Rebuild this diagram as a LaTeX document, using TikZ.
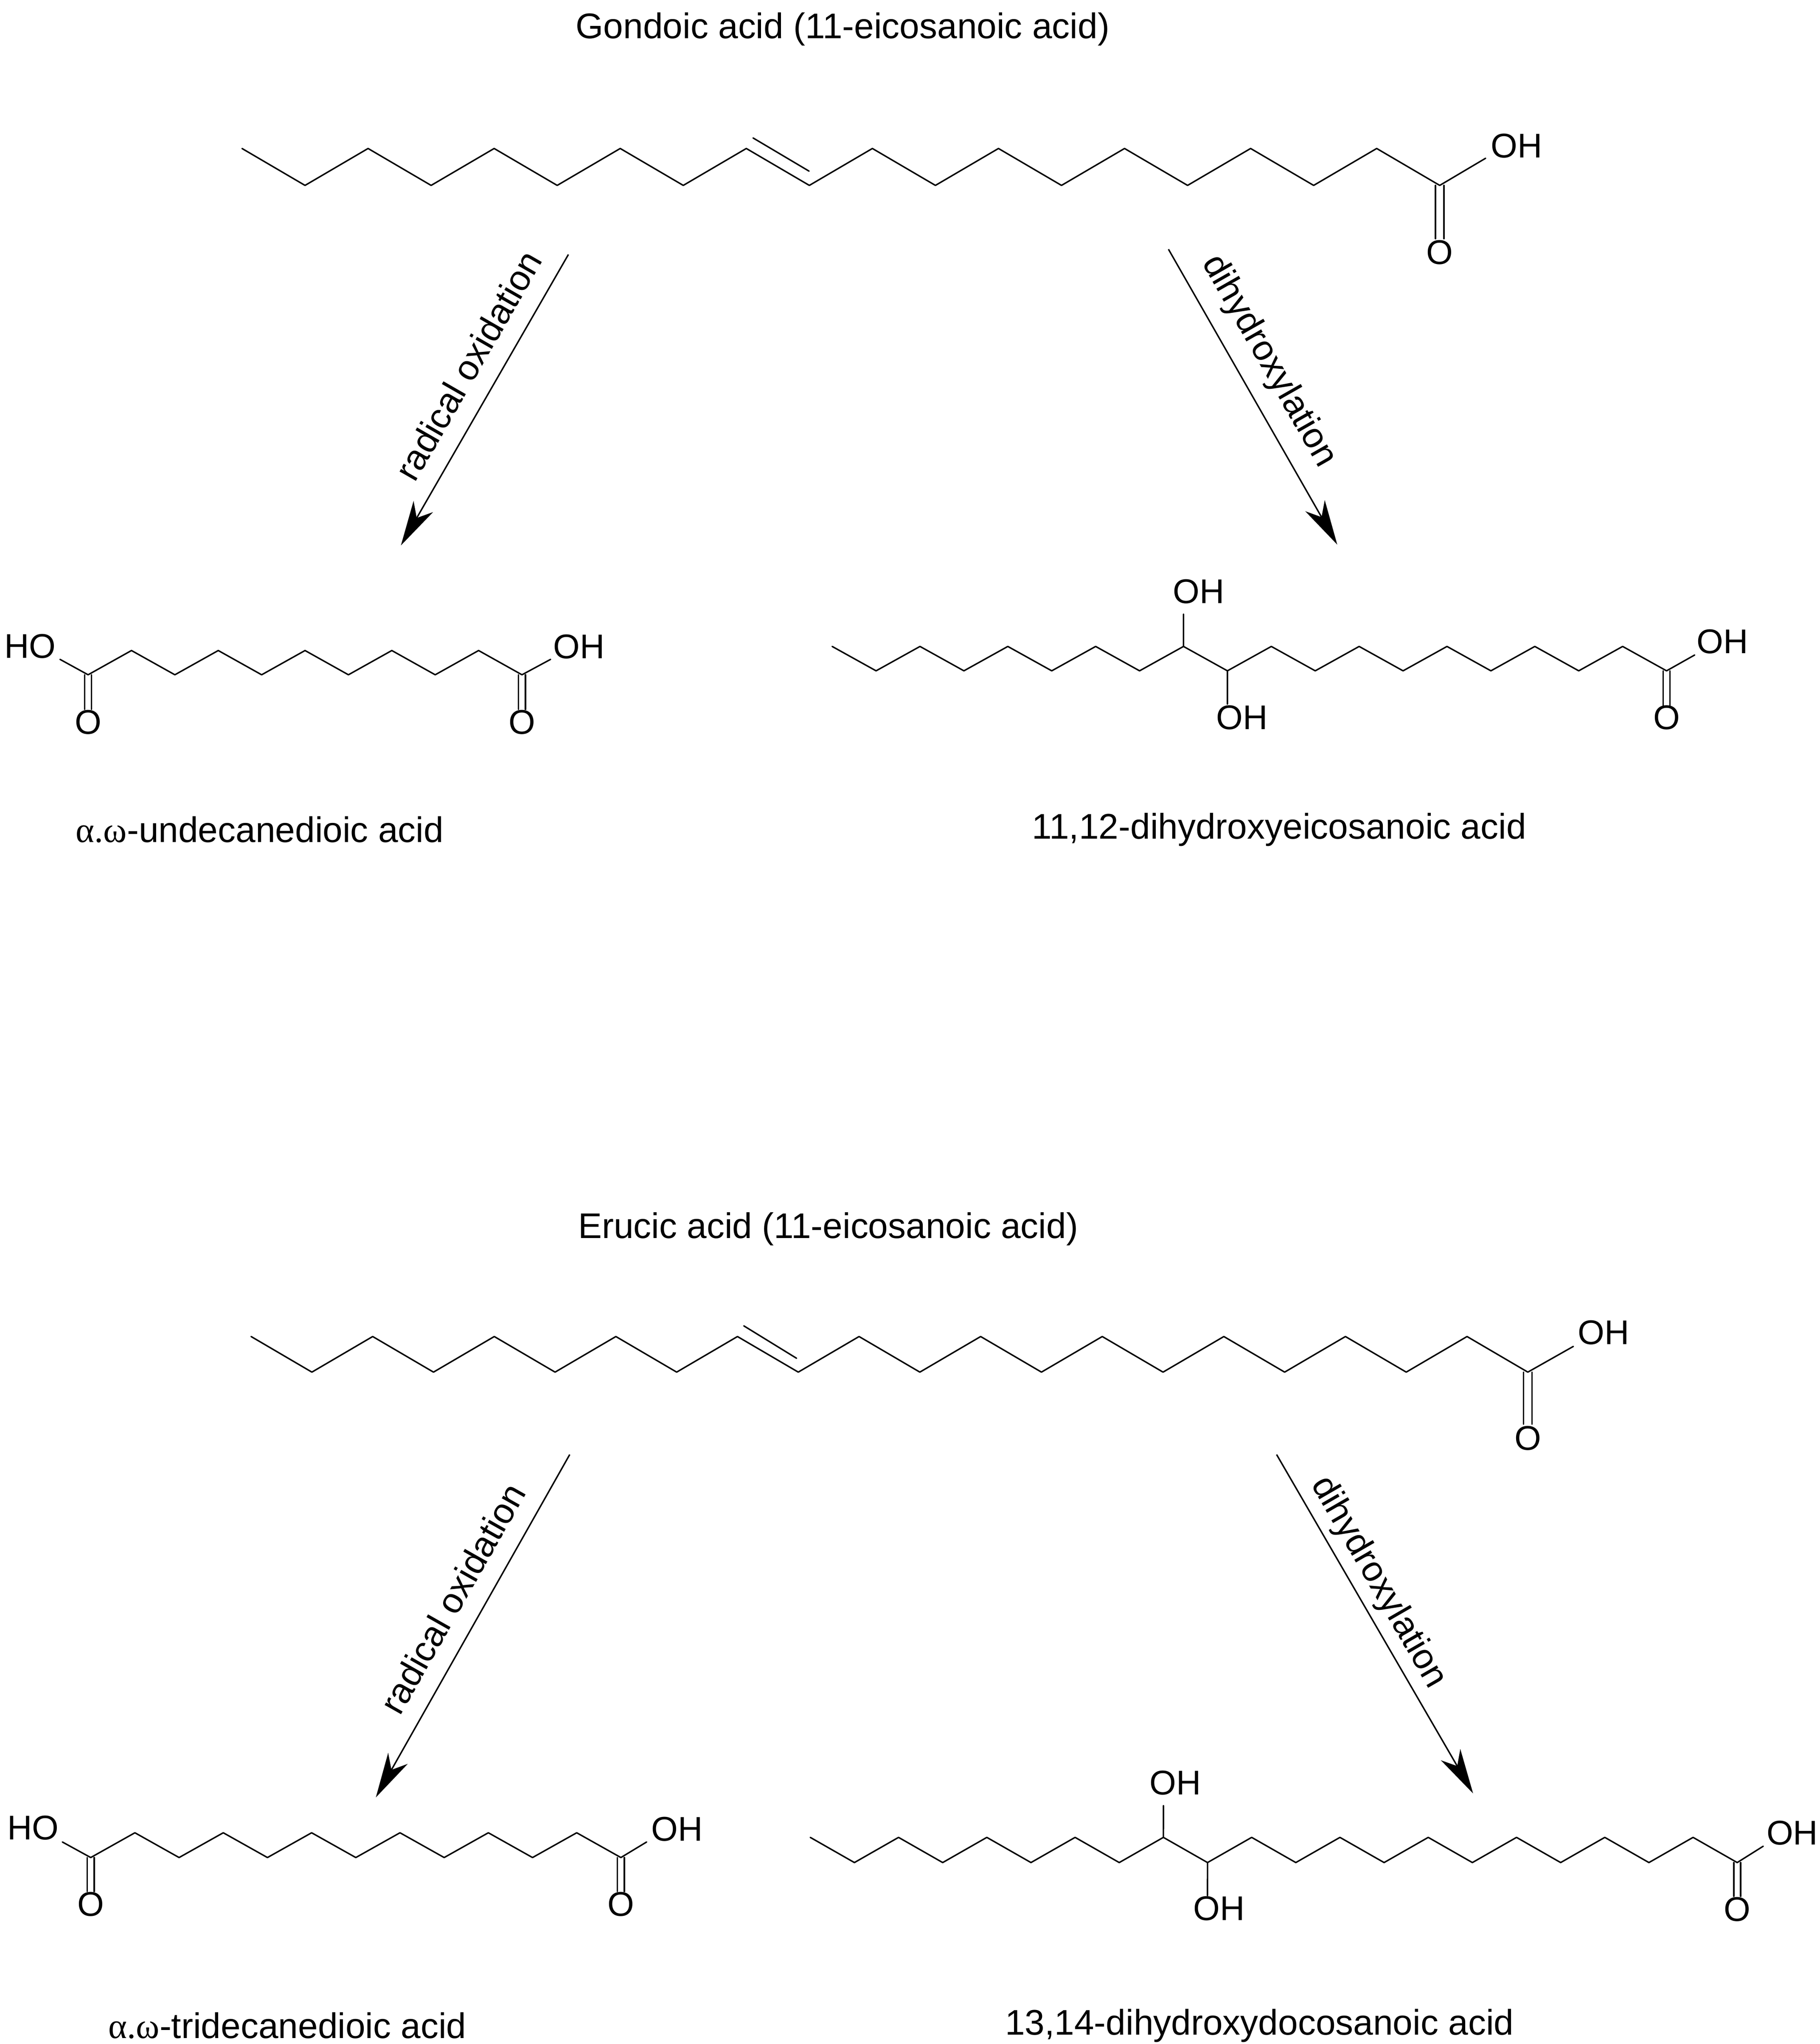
\documentclass[tikz,border=0pt]{standalone}
\usepackage{fontspec}
\setmainfont{Liberation Sans}
\newfontfamily\grk{Liberation Serif}
\usetikzlibrary{arrows.meta}
\tikzset{
  bond/.style={line width=0.55pt, line cap=round, line join=miter},
  atom/.style={inner sep=0pt, font=\fontsize{13pt}{15pt}\selectfont},
  lbl/.style={inner sep=0pt, font=\fontsize{13.5pt}{15pt}\selectfont},
  rxn/.style={line width=0.55pt, -{Stealth[length=17pt,width=8.5pt,inset=5pt]}}
}
% name, last index, x0, dx, y even, y odd
\newcommand{\mychain}[6]{%
  \foreach \i in {0,...,#2}{%
    \pgfmathsetmacro\yy{#5+mod(\i,2)*(#6-#5)}%
    \coordinate (#1\i) at ({#3+\i*#4},\yy);}
  \pgfmathtruncatemacro\lastm{#2-1}%
  \foreach \i in {0,...,\lastm}{%
    \pgfmathtruncatemacro\j{\i+1}%
    \draw[bond] (#1\i)--(#1\j);}
}
% double C=O: carbon coord, end y, half gap
\newcommand{\cdo}[3]{%
  \draw[bond] ([xshift=-#3*0.5pt]#1) -- ([xshift=-#3*0.5pt]#1 |- 0,#2);
  \draw[bond] ([xshift=#3*0.5pt]#1) -- ([xshift=#3*0.5pt]#1 |- 0,#2);}
\begin{document}
\begin{tikzpicture}[x=0.5pt,y=-0.5pt]
\useasboundingbox (0,0) rectangle (1380,1550);
% ---------- Gondoic acid ----------
\node[lbl] (t1) at (639,22) {Gondoic acid (11-eicosanoic acid)};
\mychain{g}{19}{183.5}{47.8}{112.6}{140.6}
\draw[bond] (571,104.6) -- (613.5,129.8);
\coordinate (gOHb) at (1126.5,120);
\draw[bond] (g19) -- (gOHb);
\node[atom] (gOH) at (1150,110.5) {OH};
\cdo{g19}{181}{3.2}
\node[atom] (gO) at (1091.5,191.5) {O};
% arrows top
\coordinate (a1s) at (431,193); \coordinate (a1e) at (304,413.6);
\draw[rxn] (a1s) -- (a1e);
\node[lbl, rotate=60.1] (l1) at (355,277) {radical oxidation};
\coordinate (a2s) at (886,189); \coordinate (a2e) at (1014,413);
\draw[rxn] (a2s) -- (a2e);
\node[lbl, rotate=-60.3] (l2) at (962,274) {dihydroxylation};
% ---------- undecanedioic ----------
\mychain{u}{10}{66.8}{32.9}{511.7}{493.3}
\coordinate (uHOb) at (45.5,500); \draw[bond] (u0) -- (uHOb);
\node[atom] (uHO) at (22.8,490) {HO};
\coordinate (uOHb) at (417.5,500); \draw[bond] (u10) -- (uOHb);
\node[atom] (uOH) at (439,490.5) {OH};
\cdo{u0}{538}{2.6}
\cdo{u10}{538}{2.6}
\node[atom] (uO1) at (66.8,547.7) {O};
\node[atom] (uO2) at (395.8,547.7) {O};
\node[lbl] (un) at (197,629) {{\grk α.ω}-undecanedioic acid};
% ---------- 11,12-dihydroxyeicosanoic ----------
\mychain{d}{19}{631}{33.3}{490.2}{508.7}
\coordinate (dOH1b) at (897.4,465.7); \draw[bond] (d8) -- (dOH1b);
\node[atom] (dOH1) at (909,448.5) {OH};
\coordinate (dOH2b) at (930.7,534); \draw[bond] (d9) -- (dOH2b);
\node[atom] (dOH2) at (941.8,544) {OH};
\coordinate (dOHb) at (1285,496.7); \draw[bond] (d19) -- (dOHb);
\node[atom] (dOH) at (1306,486.6) {OH};
\cdo{d19}{535}{2.6}
\node[atom] (dO) at (1263.7,544) {O};
\node[lbl] (dn) at (970,629) {11,12-dihydroxyeicosanoic acid};
% ---------- Erucic acid ----------
\node[lbl] (t2) at (628,932) {Erucic acid (11-eicosanoic acid)};
\mychain{e}{21}{190.4}{46.1}{1013.5}{1040.5}
\draw[bond] (564,1005.4) -- (604,1030);
\coordinate (eOHb) at (1193,1021); \draw[bond] (e21) -- (eOHb);
\node[atom] (eOH) at (1216,1010.6) {OH};
\cdo{e21}{1080}{3.2}
\node[atom] (eO) at (1158.7,1090.5) {O};
% arrows bottom
\coordinate (a3s) at (432,1103); \coordinate (a3e) at (285,1363);
\draw[rxn] (a3s) -- (a3e);
\node[lbl, rotate=60.5] (l3) at (343,1212) {radical oxidation};
\coordinate (a4s) at (968,1103); \coordinate (a4e) at (1117,1360);
\draw[rxn] (a4s) -- (a4e);
\node[lbl, rotate=-60] (l4) at (1045,1200) {dihydroxylation};
% ---------- tridecanedioic ----------
\mychain{t}{12}{68.8}{33.5}{1408.6}{1389.8}
\coordinate (tHOb) at (47.3,1396.8); \draw[bond] (t0) -- (tHOb);
\node[atom] (tHO) at (25,1386) {HO};
\coordinate (tOHb) at (490.3,1396.8); \draw[bond] (t12) -- (tOHb);
\node[atom] (tOH) at (513.5,1387) {OH};
\cdo{t0}{1434.4}{2.6}
\cdo{t12}{1434.4}{2.6}
\node[atom] (tO1) at (68.8,1444) {O};
\node[atom] (tO2) at (470.8,1444) {O};
\node[lbl] (tn) at (218,1536) {{\grk α.ω}-tridecanedioic acid};
% ---------- 13,14-dihydroxydocosanoic ----------
\mychain{c}{21}{614.4}{33.47}{1393.3}{1412.4}
\coordinate (cOH1b) at (882.2,1369.2); \draw[bond] (c8) -- (cOH1b);
\node[atom] (cOH1) at (891.3,1351.8) {OH};
\coordinate (cOH2b) at (915.6,1437.5); \draw[bond] (c9) -- (cOH2b);
\node[atom] (cOH2) at (924.3,1447.2) {OH};
\coordinate (cOHb) at (1337,1400); \draw[bond] (c21) -- (cOHb);
\node[atom] (cOH) at (1359,1390) {OH};
\cdo{c21}{1438}{2.6}
\node[atom] (cO) at (1317.3,1447.7) {O};
\node[lbl] (cn) at (955,1536) {13,14-dihydroxydocosanoic acid};
\end{tikzpicture}
\end{document}
